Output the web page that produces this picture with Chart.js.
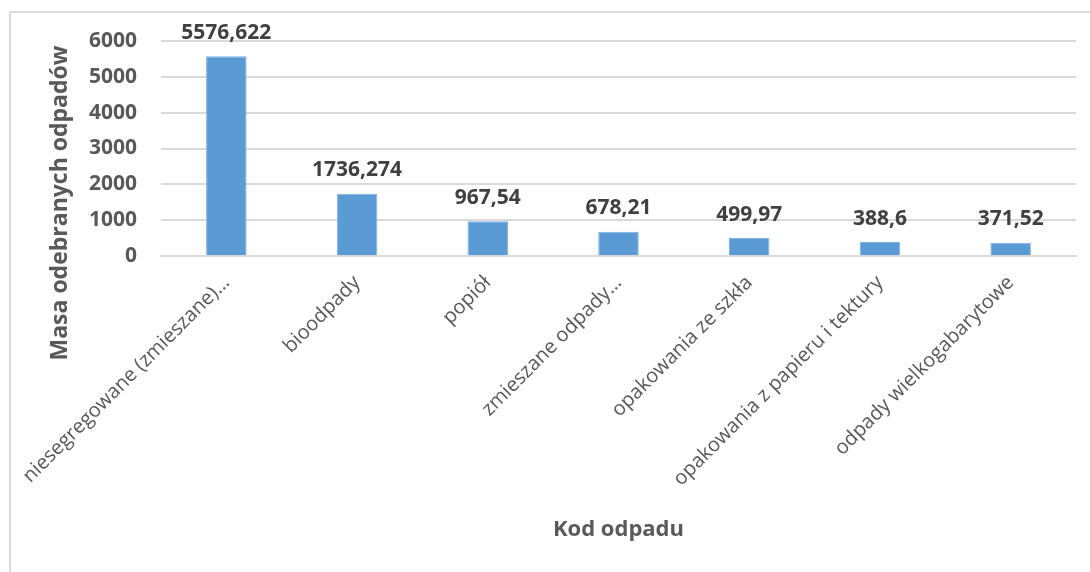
<!DOCTYPE html>
<html>
<head>
<meta charset="utf-8">
<script src="https://cdn.jsdelivr.net/npm/chart.js@4.4.0/dist/chart.umd.min.js"></script>
<style>
  html, body { margin: 0; padding: 0; background: #fff; }
  #wrap { position: relative; width: 1090px; height: 572px; overflow: hidden; }
  #frame { position: absolute; left: 9px; top: 11px; width: 1200px; height: 700px; border: 2px solid #d9d9d9; box-sizing: border-box; }
  #wrap canvas { position: absolute; left: 0; top: 0; }
</style>
</head>
<body>
<div id="wrap">
  <div id="frame"></div>
  <canvas id="barChart" width="1090" height="572"></canvas>
</div>
<script>
const categories = [
  "niesegregowane (zmieszane)…",
  "bioodpady",
  "popiół",
  "zmieszane odpady…",
  "opakowania ze szkła",
  "opakowania z papieru i tektury",
  "odpady wielkogabarytowe",
];
const masses = [5576.622, 1736.274, 967.54, 678.21, 499.97, 388.6, 371.52];
const yTicks = [0, 1000, 2000, 3000, 4000, 5000, 6000];
const yTitle = "Masa odebranych odpadów";
const xTitle = "Kod odpadu";

const FONT = "'Open Sans', 'Liberation Sans', sans-serif";

function fmt(v) {
  return String(v).replace(".", ",");
}

// value labels over the bars and the two axis titles
const labelsPlugin = {
  id: "labels",
  afterDatasetsDraw(chart) {
    const ctx = chart.ctx;
    const meta = chart.getDatasetMeta(0);
    ctx.save();
    ctx.font = "bold 21px " + FONT;
    ctx.fillStyle = "#404040";
    ctx.textAlign = "center";
    ctx.textBaseline = "bottom";
    meta.data.forEach(function (bar, i) {
      ctx.fillText(fmt(masses[i]), bar.x, bar.y - 13);
    });
    ctx.restore();
  },
  afterDraw(chart) {
    const ctx = chart.ctx;
    const area = chart.chartArea;
    ctx.save();
    ctx.font = "bold 22px " + FONT;
    ctx.fillStyle = "#595959";
    ctx.textAlign = "center";
    ctx.textBaseline = "middle";
    ctx.fillText(xTitle, (area.left + area.right) / 2, 530);
    ctx.font = "bold 23px " + FONT;
    ctx.translate(60, 203);
    ctx.rotate(-Math.PI / 2);
    ctx.fillText(yTitle, 0, 0);
    ctx.restore();
  },
};

window.addEventListener("load", function () {
  const ctx = document.getElementById("barChart");
  new Chart(ctx, {
    type: "bar",
    data: {
      labels: categories,
      datasets: [
        {
          label: yTitle,
          data: masses,
          backgroundColor: "#5b9bd5",
          borderColor: "#7fb0de",
          borderWidth: 1,
          barPercentage: 0.62,
          categoryPercentage: 0.5,
        },
      ],
    },
    options: {
      responsive: false,
      animation: false,
      layout: { padding: { top: 41, right: 14, left: 0, bottom: 0 } },
      plugins: {
        legend: { display: false },
        tooltip: { enabled: false },
      },
      scales: {
        x: {
          grid: { display: false, drawTicks: false },
          border: { display: true, color: "#d9d9d9", width: 2 },
          ticks: {
            color: "#595959",
            font: { family: FONT, size: 20 },
            minRotation: 45,
            maxRotation: 45,
            padding: 15,
            autoSkip: false,
          },
          afterFit(scale) {
            scale.height = 316;
            scale.paddingLeft = 0;
            scale.paddingRight = 0;
          },
        },
        y: {
          min: 0,
          max: 6000,
          afterBuildTicks(scale) {
            scale.ticks = yTicks.map(function (v) { return { value: v }; });
          },
          grid: { color: "#d9d9d9", lineWidth: 2, drawTicks: false },
          border: { display: false },
          ticks: {
            color: "#595959",
            font: { family: FONT, size: 21, weight: "bold" },
            padding: 24,
            callback: function (v) { return String(v); },
          },
          afterFit(scale) {
            scale.width = 161;
          },
        },
      },
    },
    plugins: [labelsPlugin],
  });
});
</script>
</body>
</html>
